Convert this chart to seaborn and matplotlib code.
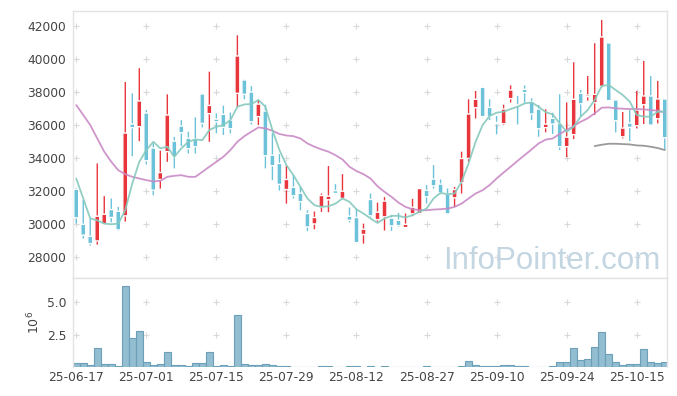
import numpy as np
import pandas as pd
import seaborn as sns
import matplotlib.pyplot as plt

# daily OHLC (KRW), 85 trading days from 25-06-17
opens = [32120, 30000, 29270, 28990, 30020, 30890, 30790, 30510, 36060, 35900,
         36730, 34610, 32710, 34390, 35030, 35940, 35210, 35150, 37880, 36690,
         36360, 36650, 36300, 37920, 38730, 38000, 36510, 36850, 34180, 33680,
         32100, 32240, 31880, 30650, 30020, 31050, 31480, 32040, 31560, 30490,
         30410, 29380, 31500, 30280, 30450, 30370, 30240, 29800, 30630, 30650,
         32060, 32730, 32430, 31820, 31600, 32510, 33980, 37050, 38280, 37070,
         36160, 36080, 37600, 37210, 38160, 37420, 36970, 35840, 36410, 36100,
         34690, 35420, 37920, 37720, 37350, 38340, 40970, 37520, 35290, 36120,
         35960, 37230, 37760, 36380, 37580]
highs = [32200, 31460, 30350, 33680, 31700, 31560, 31050, 38610, 37920, 39440,
         36910, 34890, 34450, 37860, 35290, 36300, 35600, 36470, 37920, 39230,
         36710, 37170, 36750, 41430, 38770, 38360, 37520, 37230, 35500, 34240,
         33540, 32970, 32260, 30850, 30770, 31860, 33520, 32430, 33030, 31010,
         30930, 30040, 31860, 31310, 31640, 30550, 30690, 30650, 31540, 32160,
         32370, 33580, 32710, 32160, 32260, 34390, 37560, 38060, 38320, 37560,
         36550, 37230, 38400, 37760, 38400, 37620, 37210, 36950, 36750, 37860,
         37370, 39800, 38120, 38970, 40950, 42360, 40970, 37520, 36790, 36910,
         38060, 39880, 38970, 38670, 37580]
lows = [30040, 29130, 28710, 28770, 30000, 30120, 29600, 30160, 34120, 35030,
        33620, 31760, 32160, 33780, 33380, 34730, 34280, 34280, 35860, 34990,
        35500, 35400, 35500, 37070, 37560, 36040, 36000, 33380, 32670, 32040,
        31250, 31560, 30850, 29580, 29700, 30750, 30730, 31820, 31520, 30120,
        28850, 28830, 30410, 30160, 29620, 29600, 29840, 29780, 30490, 30610,
        31250, 32160, 31820, 30610, 31050, 31860, 33780, 36400, 36470, 36300,
        35440, 36000, 37370, 36040, 37350, 36300, 35290, 35560, 35460, 34490,
        34060, 35150, 36510, 37480, 36610, 38280, 37480, 35560, 35190, 35030,
        35800, 36060, 36000, 36100, 34490]
closes = [30390, 29340, 28830, 30490, 30610, 30410, 29660, 35520, 35840, 37460,
          33840, 32060, 33130, 36610, 34080, 35540, 34570, 34690, 36100, 37190,
          36200, 35860, 35780, 40180, 37860, 36200, 37270, 34140, 33540, 32410,
          32710, 31720, 31360, 29840, 30410, 31740, 31700, 31860, 32000, 30240,
          28890, 29700, 30510, 30730, 31400, 29900, 29920, 30000, 31030, 32160,
          31660, 32320, 31900, 30630, 32100, 33980, 36670, 37560, 36510, 36510,
          36080, 36970, 38120, 37150, 37960, 36670, 35780, 36060, 36060, 34690,
          35270, 37560, 37290, 37820, 37860, 41330, 37480, 36260, 35820, 35860,
          36910, 37760, 36000, 37580, 35230]

# moving-average lines as drawn on the chart
ma5 = [32770, 31560, 30350, 30240, 30040, 30000, 30040, 30850, 32470, 33780,
       34490, 34990, 34590, 34690, 34080, 34590, 34990, 35130, 35090, 35700,
       35900, 36000, 36300, 37110, 37250, 37270, 37520, 37110, 35700, 34490,
       33580, 32970, 32260, 31560, 31150, 31050, 31090, 31250, 31560, 31360,
       30900, 30650, 30350, 30080, 30350, 30510, 30510, 30410, 30550, 30750,
       30950, 31560, 31900, 31820, 31860, 32570, 33680, 34990, 36000, 36550,
       36750, 36810, 36970, 37110, 37310, 37370, 37110, 36780, 36650, 36100,
       35600, 35900, 36510, 36910, 37520, 38360, 38430, 38120, 37820, 37420,
       36610, 36510, 36510, 36810, 36810]
ma20 = [37210, 36610, 36000, 35190, 34390, 33780, 33270, 33030, 32870, 32770,
        32670, 32590, 32630, 32870, 32930, 32970, 32870, 32870, 33170, 33480,
        33780, 34080, 34490, 34990, 35330, 35600, 35860, 35800, 35660, 35460,
        35370, 35330, 35190, 34890, 34690, 34530, 34390, 34180, 33920, 33480,
        33220, 33030, 32770, 32300, 31960, 31660, 31310, 31050, 30910, 30850,
        30850, 30890, 30910, 30950, 31050, 31250, 31560, 31860, 32060, 32370,
        32770, 33130, 33480, 33840, 34180, 34530, 34890, 35120, 35190, 35460,
        35700, 35940, 36200, 36410, 36710, 37050, 37070, 37010, 36990, 36970,
        36970, 36950, 36910, 36870, 36770]
ma60_start = 74
ma60 = [34730, 34810, 34870, 34870, 34850, 34830, 34770, 34750, 34690, 34610, 34490]

# volume in millions of shares
volume_m = [0.31, 0.31, 0.16, 1.48, 0.23, 0.23, 0.10, 6.25, 2.27, 2.81,
            0.39, 0.16, 0.23, 1.17, 0.16, 0.16, 0.10, 0.31, 0.31, 1.17,
            0.08, 0.16, 0.08, 3.98, 0.23, 0.16, 0.16, 0.23, 0.16, 0.08,
            0.04, 0.03, 0.03, 0.03, 0.00, 0.05, 0.10, 0.03, 0.03, 0.06,
            0.08, 0.03, 0.08, 0.03, 0.08, 0.03, 0.01, 0.01, 0.03, 0.03,
            0.08, 0.03, 0.03, 0.03, 0.03, 0.08, 0.47, 0.16, 0.08, 0.08,
            0.08, 0.16, 0.16, 0.08, 0.08, 0.03, 0.03, 0.03, 0.08, 0.42,
            0.42, 1.48, 0.55, 0.63, 1.56, 2.73, 1.02, 0.39, 0.16, 0.23,
            0.23, 1.41, 0.39, 0.31, 0.39]

tick_idx = [0, 10, 20, 30, 40, 50, 60, 70, 80]
tick_labels = ["25-06-17", "25-07-01", "25-07-15", "25-07-29", "25-08-12",
               "25-08-27", "25-09-10", "25-09-24", "25-10-15"]

df = pd.DataFrame({"open": opens, "high": highs, "low": lows, "close": closes,
                   "ma5": ma5, "ma20": ma20, "vol": volume_m})
df["idx"] = np.arange(len(df))

UP = "#e8363c"
DOWN = "#6cc2d9"
GRID = "#d9d9d9"
TXT = "#444444"

sns.set_style("white")
plt.rcParams["font.family"] = ["DejaVu Sans"]

fig = plt.figure(figsize=(6.77, 3.96), dpi=100)
W, H = 677, 396
left, right = 73.3, 666.5
ax1 = fig.add_axes([left / W, 1 - 278 / H, (right - left) / W, (278 - 11) / H])
ax2 = fig.add_axes([left / W, 1 - 367 / H, (right - left) / W, (367 - 278) / H])

xlim = (-0.42, 84.25)

# candles: red = close above open, blue = close below open
up = df["close"] >= df["open"]
colors = np.where(up, UP, DOWN)
body_lo = np.minimum(df["open"], df["close"])
body_h = np.maximum(np.abs(df["close"] - df["open"]), 70)
wicks = ax1.vlines(df["idx"], df["low"], df["high"], colors=colors, linewidth=1.0, zorder=2)
wicks.set_snap(False)
bodies = ax1.bar(df["idx"], body_h, bottom=body_lo, width=0.7, color=colors, zorder=3)
for b in bodies:
    b.set_snap(False)

# moving averages
sns.lineplot(data=df, x="idx", y="ma20", ax=ax1, color="#c98ac6", linewidth=1.3, alpha=0.9, zorder=4)
sns.lineplot(data=df, x="idx", y="ma5", ax=ax1, color="#86c9bd", linewidth=1.3, alpha=0.9, zorder=4)
ma60_df = pd.DataFrame({"idx": np.arange(ma60_start, ma60_start + len(ma60)), "ma60": ma60})
sns.lineplot(data=ma60_df, x="idx", y="ma60", ax=ax1, color="#9a9a9a", linewidth=1.3, zorder=4)

ax1.set_xlim(*xlim)
ax1.set_ylim(26750, 42900)
yt = np.arange(28000, 42001, 2000)
ax1.set_yticks(yt)
ax1.set_yticklabels([str(v) for v in yt], fontsize=8.8, color=TXT)
ax1.set_xticks([])
ax1.set_xlabel("")
ax1.set_ylabel("")
gx, gy = np.meshgrid(tick_idx, yt)
ax1.scatter(gx.ravel(), gy.ravel(), marker="+", s=18, color=GRID, linewidths=0.8, zorder=0)
ax1.tick_params(axis="y", length=0, pad=5)

# volume
sns.barplot(data=df, x="idx", y="vol", ax=ax2, color="#93bdd0", width=1.0,
            edgecolor="#6c9fb8", linewidth=0.8, saturation=1, native_scale=True)
ax2.set_xlim(*xlim)
ax2.set_ylim(0, 6.86)
ax2.set_yticks([2.5, 5.0])
ax2.set_yticklabels(["2.5", "5.0"], fontsize=8.8, color=TXT)
ax2.set_xticks(tick_idx)
ax2.set_xticklabels(tick_labels, fontsize=8.8, color=TXT)
ax2.set_xlabel("")
ax2.set_ylabel(r"$10^6$", fontsize=9, color=TXT, labelpad=3)
ax2.tick_params(axis="both", length=0, pad=3)
ax2.tick_params(axis="y", pad=5)
vx, vy = np.meshgrid(tick_idx, [2.5, 5.0])
ax2.scatter(vx.ravel(), vy.ravel(), marker="+", s=18, color=GRID, linewidths=0.8, zorder=0)

for ax in (ax1, ax2):
    for s in ax.spines.values():
        s.set_color("#e3e3e3")
        s.set_linewidth(1.0)
ax2.spines["bottom"].set_visible(False)

fig.text(660 / W, 1 - 269 / H, "InfoPointer.com", ha="right", va="baseline",
         fontsize=22.5, color="#c3d6e1", family="Liberation Sans", zorder=10)

fig.savefig("out.png", dpi=100)
